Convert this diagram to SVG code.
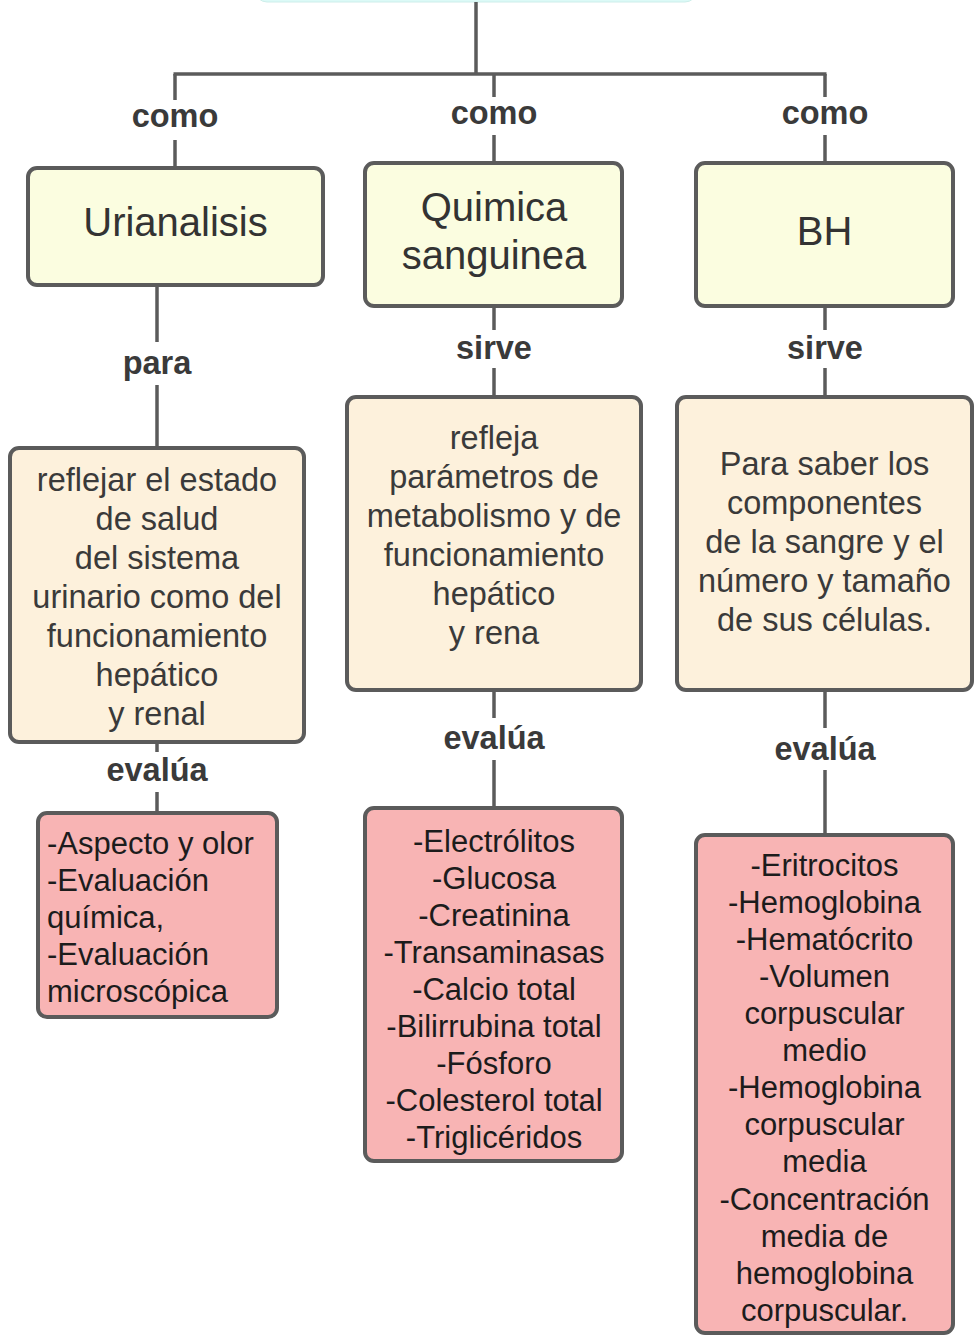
<svg xmlns="http://www.w3.org/2000/svg" width="976" height="1336" viewBox="0 0 976 1336">
<style>
.box{stroke:#5b5b5b;stroke-width:4}
.top{fill:#dcfaf7;stroke:#cdeeea;stroke-width:1}
.y{fill:#fbfde0}
.p{fill:#fdf1dc}
.r{fill:#f8b4b4}
.conn line{stroke:#5b5b5b;stroke-width:3.5}
text{font-family:"Liberation Sans",Arial,sans-serif;text-anchor:middle}
.t1{font-size:40px;fill:#333}
.t2{font-size:32.5px;fill:#3a3a3a}
.t3{font-size:31px;fill:#1c1c1c}
.lbl{font-size:32.5px;font-weight:bold;fill:#3a3a3a}
.left{text-anchor:start}
</style>
<g id="top"><rect class="top" x="255" y="-40" width="442" height="42" rx="12"/></g>
<g class="conn" id="connectors">
<line x1="476" y1="2" x2="476" y2="75"/>
<line x1="173.5" y1="74" x2="826.5" y2="74"/>
<line x1="175" y1="74" x2="175" y2="100"/>
<line x1="175" y1="140" x2="175" y2="168"/>
<line x1="494" y1="74" x2="494" y2="97"/>
<line x1="494" y1="135" x2="494" y2="163"/>
<line x1="825" y1="74" x2="825" y2="97"/>
<line x1="825" y1="135" x2="825" y2="163"/>
<line x1="157" y1="285" x2="157" y2="342"/>
<line x1="157" y1="385" x2="157" y2="448"/>
<line x1="494" y1="306" x2="494" y2="330"/>
<line x1="494" y1="368" x2="494" y2="397"/>
<line x1="825" y1="306" x2="825" y2="330"/>
<line x1="825" y1="368" x2="825" y2="397"/>
<line x1="157" y1="742" x2="157" y2="752"/>
<line x1="157" y1="792" x2="157" y2="813"/>
<line x1="494" y1="690" x2="494" y2="718"/>
<line x1="494" y1="760" x2="494" y2="808"/>
<line x1="825" y1="690" x2="825" y2="728"/>
<line x1="825" y1="770" x2="825" y2="835"/>
<text class="lbl" x="175" y="127">como</text>
<text class="lbl" x="494" y="124">como</text>
<text class="lbl" x="825" y="124">como</text>
<text class="lbl" x="157" y="374">para</text>
<text class="lbl" x="494" y="359">sirve</text>
<text class="lbl" x="825" y="359">sirve</text>
<text class="lbl" x="157" y="781">evalúa</text>
<text class="lbl" x="494" y="749">evalúa</text>
<text class="lbl" x="825" y="760">evalúa</text>
</g>
<g id="urianalisis"><rect class="box y" x="28" y="168" width="295" height="117" rx="9"/>
<text class="t1" x="175.5" y="236">Urianalisis</text></g>
<g id="quimica"><rect class="box y" x="365" y="163" width="257" height="143" rx="9"/>
<text class="t1" x="494" y="221">Quimica</text><text class="t1" x="494" y="269">sanguinea</text></g>
<g id="bh"><rect class="box y" x="696" y="163" width="257" height="143" rx="9"/>
<text class="t1" x="824.5" y="245">BH</text></g>
<g id="uri-desc"><rect class="box p" x="10" y="448" width="294" height="294" rx="9"/>
<text class="t2" x="157" y="491">reflejar el estado</text>
<text class="t2" x="157" y="530">de salud</text>
<text class="t2" x="157" y="569">del sistema</text>
<text class="t2" x="157" y="608">urinario como del</text>
<text class="t2" x="157" y="647">funcionamiento</text>
<text class="t2" x="157" y="686">hepático</text>
<text class="t2" x="157" y="725">y renal</text></g>
<g id="qs-desc"><rect class="box p" x="347" y="397" width="294" height="293" rx="9"/>
<text class="t2" x="494" y="449">refleja</text>
<text class="t2" x="494" y="488">parámetros de</text>
<text class="t2" x="494" y="527">metabolismo y de</text>
<text class="t2" x="494" y="566">funcionamiento</text>
<text class="t2" x="494" y="605">hepático</text>
<text class="t2" x="494" y="644">y rena</text></g>
<g id="bh-desc"><rect class="box p" x="677" y="397" width="295" height="293" rx="9"/>
<text class="t2" x="824.5" y="475">Para saber los</text>
<text class="t2" x="824.5" y="514">componentes</text>
<text class="t2" x="824.5" y="553">de la sangre y el</text>
<text class="t2" x="824.5" y="592">número y tamaño</text>
<text class="t2" x="824.5" y="631">de sus células.</text></g>
<g id="uri-eval"><rect class="box r" x="38" y="813" width="239" height="204" rx="9"/>
<text class="t3 left" x="47" y="854">-Aspecto y olor</text>
<text class="t3 left" x="47" y="891">-Evaluación</text>
<text class="t3 left" x="47" y="928">química,</text>
<text class="t3 left" x="47" y="965">-Evaluación</text>
<text class="t3 left" x="47" y="1002">microscópica</text></g>
<g id="qs-eval"><rect class="box r" x="365" y="808" width="257" height="353" rx="9"/>
<text class="t3" x="494" y="852">-Electrólitos</text>
<text class="t3" x="494" y="889">-Glucosa</text>
<text class="t3" x="494" y="926">-Creatinina</text>
<text class="t3" x="494" y="963">-Transaminasas</text>
<text class="t3" x="494" y="1000">-Calcio total</text>
<text class="t3" x="494" y="1037">-Bilirrubina total</text>
<text class="t3" x="494" y="1074">-Fósforo</text>
<text class="t3" x="494" y="1111">-Colesterol total</text>
<text class="t3" x="494" y="1148">-Triglicéridos</text></g>
<g id="bh-eval"><rect class="box r" x="696" y="835" width="257" height="498" rx="9"/>
<text class="t3" x="824.5" y="876">-Eritrocitos</text>
<text class="t3" x="824.5" y="913">-Hemoglobina</text>
<text class="t3" x="824.5" y="950">-Hematócrito</text>
<text class="t3" x="824.5" y="987">-Volumen</text>
<text class="t3" x="824.5" y="1024">corpuscular</text>
<text class="t3" x="824.5" y="1061">medio</text>
<text class="t3" x="824.5" y="1098">-Hemoglobina</text>
<text class="t3" x="824.5" y="1135">corpuscular</text>
<text class="t3" x="824.5" y="1172">media</text>
<text class="t3" x="824.5" y="1210">-Concentración</text>
<text class="t3" x="824.5" y="1247">media de</text>
<text class="t3" x="824.5" y="1284">hemoglobina</text>
<text class="t3" x="824.5" y="1321">corpuscular.</text></g>
</svg>
